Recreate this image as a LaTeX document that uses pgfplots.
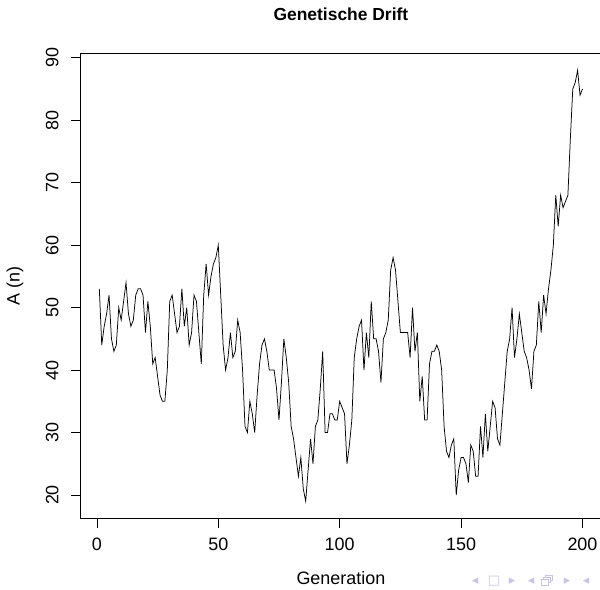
\documentclass[border=0pt]{standalone}
\usepackage{fontspec}
\setmainfont{Liberation Sans}
\newfontfamily\symfont{DejaVu Sans}
\usepackage{pgfplots}
\pgfplotsset{compat=1.18}
\definecolor{navgray}{RGB}{198,198,228}

\begin{document}
\begin{tikzpicture}
\begin{axis}[
  at={(80bp,71.5bp)}, anchor=south west,
  scale only axis, width=521.8bp, height=465.5bp,
  xmin=-6.96, xmax=207.96, ymin=16.24, ymax=90.76,
  xtick={0,50,...,200}, ytick={20,30,...,90},
  tick align=outside, xtick pos=left, ytick pos=left,
  major tick length=9bp,
  tick style={black, line width=0.7bp},
  axis line style={black, line width=0.7bp},
  font=\fontsize{18}{21}\selectfont,
  /pgf/number format/assume math mode=true,
  xticklabel style={yshift=-7bp},
  yticklabel style={xshift=-9bp, rotate=90, anchor=south},
  title={\bfseries Genetische Drift},
  every axis title/.style={at={(0.5,1)}, anchor=center, yshift=38.5bp, font=\fontsize{17.5}{20}\selectfont},
  xlabel={Generation}, ylabel={A (n)},
  every axis x label/.style={at={(0.5,0)}, anchor=center, yshift=-59.5bp},
  every axis y label/.style={at={(0,0.5)}, xshift=-65bp, rotate=90, anchor=center},
]
% Groesse der Population A in jeder Generation
\addplot[black, line width=0.75bp] coordinates {
(1,53) (2,44) (3,47) (4,49) (5,52) (6,45) (7,43) (8,44) (9,50) (10,48)
(11,51) (12,54) (13,49) (14,47) (15,48) (16,52) (17,53) (18,53) (19,52) (20,46)
(21,51) (22,47) (23,41) (24,42) (25,39) (26,36) (27,35) (28,35) (29,40) (30,51)
(31,52) (32,49) (33,46) (34,47) (35,53) (36,47) (37,50) (38,44) (39,46) (40,52)
(41,51) (42,46) (43,41) (44,52) (45,57) (46,52) (47,55) (48,57) (49,58) (50,60)
(51,52) (52,44) (53,40) (54,42) (55,46) (56,42) (57,43) (58,48) (59,46) (60,40)
(61,31) (62,30) (63,35) (64,33) (65,30) (66,36) (67,41) (68,44) (69,45) (70,43)
(71,40) (72,40) (73,40) (74,37) (75,32) (76,38) (77,45) (78,42) (79,38) (80,31)
(81,29) (82,26) (83,23) (84,26) (85,21) (86,19) (87,24) (88,29) (89,25) (90,31)
(91,32) (92,37) (93,43) (94,30) (95,30) (96,33) (97,33) (98,32) (99,32) (100,35)
(101,34) (102,33) (103,25) (104,28) (105,32) (106,42) (107,45) (108,47) (109,48) (110,40)
(111,46) (112,42) (113,51) (114,45) (115,45) (116,43) (117,38) (118,45) (119,46) (120,48)
(121,56) (122,58) (123,56) (124,51) (125,46) (126,46) (127,46) (128,46) (129,42) (130,50)
(131,43) (132,46) (133,35) (134,39) (135,32) (136,32) (137,41) (138,43) (139,43) (140,44)
(141,43) (142,40) (143,31) (144,27) (145,26) (146,28) (147,29) (148,20) (149,24) (150,26)
(151,26) (152,25) (153,22) (154,28) (155,27) (156,23) (157,23) (158,31) (159,26) (160,33)
(161,27) (162,31) (163,35) (164,34) (165,29) (166,28) (167,33) (168,38) (169,43) (170,45)
(171,50) (172,42) (173,45) (174,49) (175,46) (176,43) (177,42) (178,40) (179,37) (180,43)
(181,44) (182,51) (183,46) (184,52) (185,49) (186,53) (187,56) (188,60) (189,68) (190,63)
(191,68) (192,66) (193,67) (194,68) (195,77) (196,85) (197,86) (198,88) (199,84) (200,85)
};
\end{axis}
% beamer navigation symbols
\begin{scope}[every node/.style={text=navgray, font=\symfont\fontsize{13}{13}\selectfont, inner sep=0pt}]
\node at (475bp,9bp) {◂};
\node at (494bp,9bp) {□};
\node at (512bp,9bp) {▸};
\node at (531bp,9bp) {◂};
\node at (567bp,9bp) {▸};
\node at (586bp,9bp) {◂};
\end{scope}
% stacked frames icon (no glyph available)
\draw[navgray, line width=0.9bp, fill=white] (545bp,10bp) rectangle (552bp,14.5bp);
\draw[navgray, line width=0.9bp, fill=white] (543bp,8bp) rectangle (550bp,12.5bp);
\draw[navgray, line width=0.9bp, fill=white] (541bp,4.5bp) rectangle (548bp,10.5bp);
\pgfresetboundingbox
\path[use as bounding box] (0,0) rectangle (600bp,590bp);
\end{tikzpicture}
\end{document}
